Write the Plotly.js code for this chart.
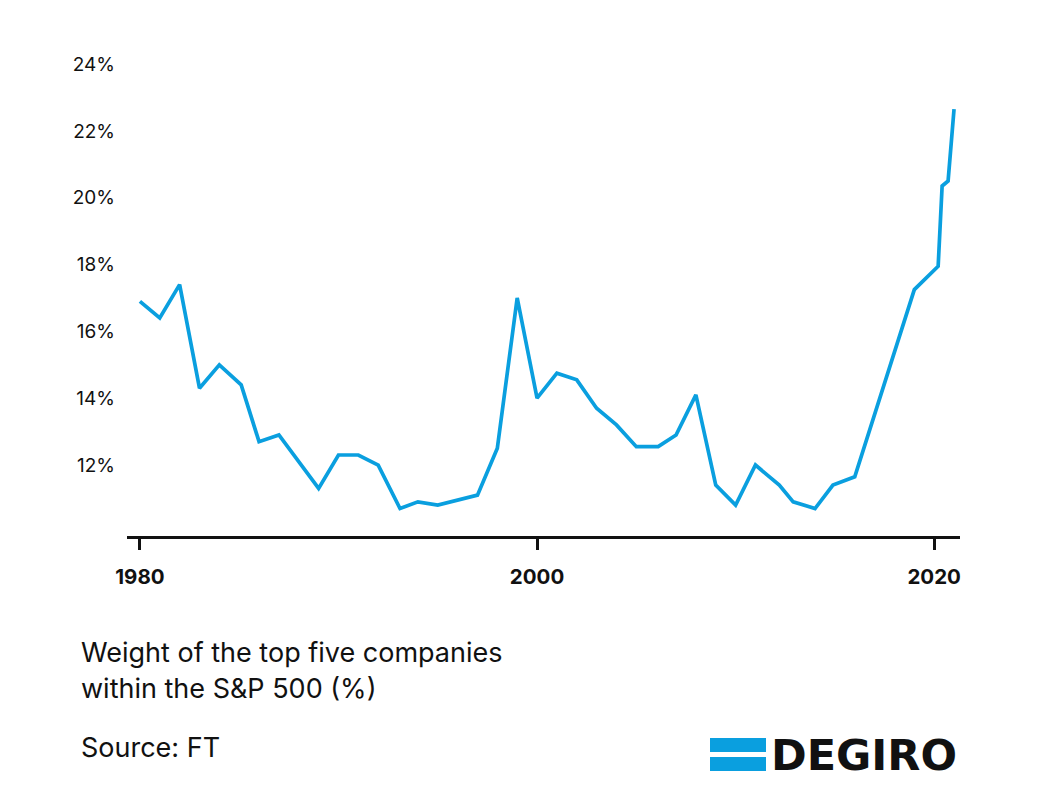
<!DOCTYPE html>
<html>
<head>
<meta charset="utf-8">
<script src="https://cdn.plot.ly/plotly-3.0.1.min.js"></script>
<style>
html,body{margin:0;padding:0;background:#fff;}
#chart{width:1040px;height:800px;}
</style>
</head>
<body>
<div id="chart"></div>
<script>
const years = [1980, 1981, 1982, 1983, 1984, 1985.1, 1986, 1987, 1989, 1990, 1991, 1992, 1993.1, 1994, 1995, 1997, 1998, 1999, 2000, 2001, 2002, 2003, 2004, 2005, 2006.1, 2007, 2008, 2009, 2010, 2011, 2012.2, 2012.9, 2014, 2014.9, 2016, 2019, 2020.2, 2020.4, 2020.7, 2021];
const weights = [16.9, 16.4, 17.4, 14.3, 15.0, 14.4, 12.7, 12.9, 11.3, 12.3, 12.3, 12.0, 10.7, 10.9, 10.8, 11.1, 12.5, 17.0, 14.0, 14.75, 14.55, 13.7, 13.2, 12.55, 12.55, 12.9, 14.1, 11.4, 10.8, 12.0, 11.4, 10.9, 10.7, 11.4, 11.65, 17.25, 17.95, 20.35, 20.5, 22.65];
const yTicks = [12, 14, 16, 18, 20, 22, 24];
const yTickLabels = ['12%', '14%', '16%', '18%', '20%', '22%', '24%'];
const xTicks = [1980, 2000, 2020];
const xTickLabels = ['1980', '2000', '2020'];
const titleLines = ['Weight of the top five companies', 'within the S&P 500 (%)'];
const sourceText = 'Source: FT';
const brandText = 'DEGIRO';

const BLUE = '#0a9fdf';
const INK = '#111111';

// pixel helpers for paper coordinates (plot area 127..960 x, 57..536 y)
const L = 127, R = 960, T = 57, B = 536;
const px = x => (x - L) / (R - L);
const py = y => (B - y) / (B - T);

const trace = {
  x: years, y: weights, type: 'scatter', mode: 'lines',
  line: {color: BLUE, width: 3.7, shape: 'linear'},
  hoverinfo: 'skip'
};

const layout = {
  width: 1040, height: 800,
  margin: {l: L, r: 1040 - R, t: T, b: 800 - B, pad: 0},
  paper_bgcolor: '#ffffff', plot_bgcolor: '#ffffff',
  showlegend: false,
  font: {family: 'Inter, "Liberation Sans", sans-serif', color: INK},
  xaxis: {
    range: [1979.35, 2021.3],
    tickvals: xTicks, ticktext: xTickLabels,
    showgrid: false, zeroline: false,
    showline: true, linecolor: INK, linewidth: 3,
    ticks: 'outside', ticklen: 11, tickwidth: 3, tickcolor: INK,
    tickfont: {size: 20.5, weight: 700, color: INK},
    ticklabelstandoff: 9
  },
  yaxis: {
    range: [9.877, 24.21],
    tickvals: yTicks, ticktext: yTickLabels,
    showgrid: false, zeroline: false, showline: false, ticks: '',
    tickfont: {size: 19, color: INK},
    ticklabelstandoff: 11
  },
  shapes: [
    {type: 'rect', xref: 'paper', yref: 'paper', x0: px(710), x1: px(766), y0: py(738), y1: py(752), fillcolor: BLUE, line: {width: 0}},
    {type: 'rect', xref: 'paper', yref: 'paper', x0: px(710), x1: px(766), y0: py(757), y1: py(771), fillcolor: BLUE, line: {width: 0}}
  ],
  annotations: [
    {xref: 'paper', yref: 'paper', x: px(79), y: py(652), xanchor: 'left', yanchor: 'middle', text: titleLines[0], showarrow: false, font: {size: 27, color: INK}},
    {xref: 'paper', yref: 'paper', x: px(79), y: py(688), xanchor: 'left', yanchor: 'middle', text: titleLines[1], showarrow: false, font: {size: 27, color: INK}},
    {xref: 'paper', yref: 'paper', x: px(79), y: py(747), xanchor: 'left', yanchor: 'middle', text: sourceText, showarrow: false, font: {size: 27, color: INK}},
    {xref: 'paper', yref: 'paper', x: px(769), y: py(755), xanchor: 'left', yanchor: 'middle', text: brandText, showarrow: false, font: {size: 43, weight: 700, family: '"DejaVu Sans", sans-serif', color: INK}}
  ]
};

Plotly.newPlot('chart', [trace], layout, {staticPlot: true, displayModeBar: false});
</script>
</body>
</html>
